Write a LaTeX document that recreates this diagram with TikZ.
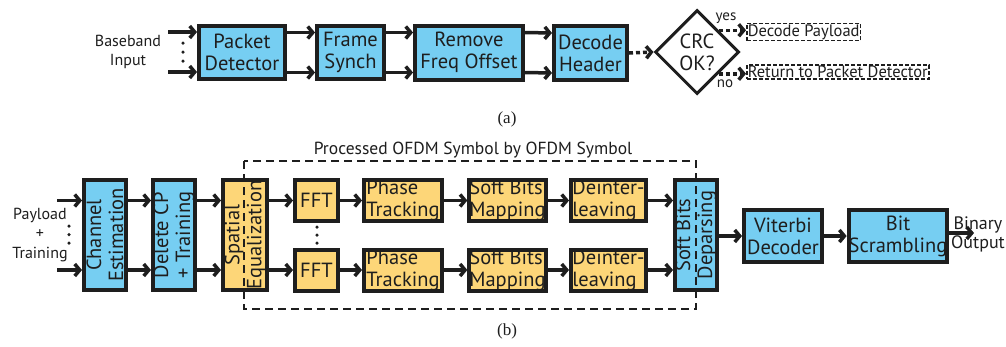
\documentclass[tikz,border=0pt]{standalone}
\usepackage{fontspec}
\setmainfont{Liberation Serif}
\newfontfamily\diagfont{PT Sans}
\usetikzlibrary{arrows.meta,shapes.geometric}
\definecolor{ink}{RGB}{30,30,30}
\definecolor{boxblue}{RGB}{118,206,242}
\definecolor{boxyellow}{RGB}{253,214,120}

\begin{document}
\begin{tikzpicture}[x=1pt,y=-1pt,
  unit/.style={draw=ink, line width=4pt, inner sep=0pt, text=ink,
    font=\diagfont\fontsize{20.5}{22}\selectfont, align=center},
  bluebox/.style={unit, fill=boxblue},
  yelbox/.style={unit, fill=boxyellow},
  vbox/.style={rotate=90},
  arr/.style={draw=ink, line width=3.5pt, -{Straight Barb[length=5pt,width=12pt]}},
  dotarr/.style={arr, dash pattern=on 4pt off 3pt},
  outcome/.style={draw=ink, line width=1.5pt, dash pattern=on 4pt off 2pt,
    inner sep=1pt, anchor=west, text=ink, font=\diagfont\fontsize{16.5}{18}\selectfont},
  plain/.style={text=ink, align=center, font=\diagfont\fontsize{16}{19.5}\selectfont},
  small/.style={text=ink, font=\diagfont\fontsize{15}{17}\selectfont},
  caption/.style={text=ink, font=\fontsize{17}{19}\selectfont},
  dot/.style={fill=ink, circle, inner sep=0pt, minimum size=3.5pt},
]
\useasboundingbox (0,0) rectangle (1006,346);
\fill[white] (0,0) rectangle (1006,346);

% ---------------- (a) header processing ----------------
\node[plain] (bbin) at (128,52) {Baseband\\Input};
\coordinate (ina) at (168,32);
\coordinate (inb) at (168,72);
\node[dot] at (183,43) {};
\node[dot] at (183,52) {};
\node[dot] at (183,61) {};

\node[bluebox, minimum width=86pt, minimum height=53pt] (pd) at (242,52.5) {Packet\\Detector};
\node[bluebox, minimum width=67pt, minimum height=53pt] (fs) at (350.5,52.5) {Frame\\Synch};
\node[bluebox, minimum width=108pt, minimum height=54pt] (rf) at (469,52.5) {Remove\\Freq Offset};
\node[bluebox, minimum width=73pt, minimum height=54pt] (dh) at (590.5,53) {Decode\\Header};
\node[draw=ink, line width=3pt, shape=diamond, aspect=1, minimum width=84pt,
      minimum height=84pt, inner sep=0pt, fill=white, text=ink, align=center,
      font=\diagfont\fontsize{20.5}{22}\selectfont] (crc) at (697,52) {CRC\\OK?};
\node[outcome] (dp) at (746,32) {Decode Payload};
\node[outcome] (rp) at (746,72) {Return to Packet Detector};
\node[small] (yes) at (726,18) {yes};
\node[small] (no) at (725,84) {no};

\draw[arr] (ina) -- (ina -| pd.west);
\draw[arr] (inb) -- (inb -| pd.west);
\foreach \a/\b in {pd/fs, fs/rf, rf/dh}{
  \draw[arr] ([yshift=20pt]\a.east) -- ([yshift=20pt]\b.west);
  \draw[arr] ([yshift=-20pt]\a.east) -- ([yshift=-20pt]\b.west);
}
\draw[dotarr] (dh.east) -- (crc.west);
\draw[dotarr] (crc.north east) -- (crc.north east -| dp.west);
\draw[dotarr] (crc.south east) -- (crc.south east -| rp.west);

\node[caption] (capa) at (507,119) {(a)};

% ---------------- (b) payload processing ----------------
\node[plain] (pin) at (40,235) {Payload\\+\\Training};
\coordinate (inc) at (57,200.5);
\coordinate (ind) at (57,270);
\node[dot] at (69,226) {};
\node[dot] at (69,234.5) {};
\node[dot] at (69,243) {};

% vertical blocks are rotated: their north anchor is the left side, south the right side
\node[bluebox, vbox, minimum width=110pt, minimum height=42pt] (ce) at (105,235) {Channel\\Estimation};
\node[bluebox, vbox, minimum width=110pt, minimum height=42pt] (dcp) at (174,235) {Delete CP\\+ Training};
\node[yelbox, vbox, minimum width=110pt, minimum height=44pt] (se) at (245,235) {Spatial\\Equalization};

\foreach \r/\y in {1/200.5, 2/270}{
  \node[yelbox, minimum width=43pt, minimum height=41pt] (f\r) at (316.5,\y) {FFT};
  \node[yelbox, minimum width=78pt, minimum height=41pt, align=left] (p\r) at (403,\y) {Phase\\Tracking};
  \node[yelbox, minimum width=75pt, minimum height=41pt, align=left] (m\r) at (507.5,\y) {Soft Bits\\Mapping};
  \node[yelbox, minimum width=75pt, minimum height=41pt, align=left] (d\r) at (608.5,\y) {Deinter-\\leaving};
}
\node[dot] at (317,227) {};
\node[dot] at (317,235) {};
\node[dot] at (317,243) {};

\node[bluebox, vbox, minimum width=110pt, minimum height=42pt] (dep) at (696,235) {Soft Bits\\Deparsing};
\node[bluebox, minimum width=78pt, minimum height=52pt] (vit) at (783,236) {Viterbi\\Decoder};
\node[bluebox, minimum width=98pt, minimum height=52pt] (bs) at (898,236) {Bit\\Scrambling};
\coordinate (outp) at (974,233);

\draw[arr] (inc) -- (inc -| ce.north);
\draw[arr] (ind) -- (ind -| ce.north);
\foreach \r in {1,2}{
  \draw[arr] (ce.south |- f\r) -- (dcp.north |- f\r);
  \draw[arr] (dcp.south |- f\r) -- (se.north |- f\r);
  \draw[arr] (se.south |- f\r) -- (f\r.west);
  \draw[arr] (f\r) -- (p\r);
  \draw[arr] (p\r) -- (m\r);
  \draw[arr] (m\r) -- (d\r);
  \draw[arr] (d\r) -- (dep.north |- d\r);
}
\draw[arr] (dep.south |- vit) -- (vit.west);
\draw[arr] (vit) -- (bs);
\draw[arr] (bs.east |- outp) -- (outp);
\node[plain, font=\diagfont\fontsize{18}{19}\selectfont] (bout) at (978,234) {Binary\\Output};

% symbol-by-symbol processing region
\draw[ink, line width=1.8pt, dash pattern=on 8pt off 5pt] (244,161) rectangle (696,309);
\node[plain, font=\diagfont\fontsize{17.5}{19}\selectfont] (region) at (473,150) {Processed OFDM Symbol by OFDM Symbol};

\node[caption] (capb) at (507,331) {(b)};
\end{tikzpicture}
\end{document}
